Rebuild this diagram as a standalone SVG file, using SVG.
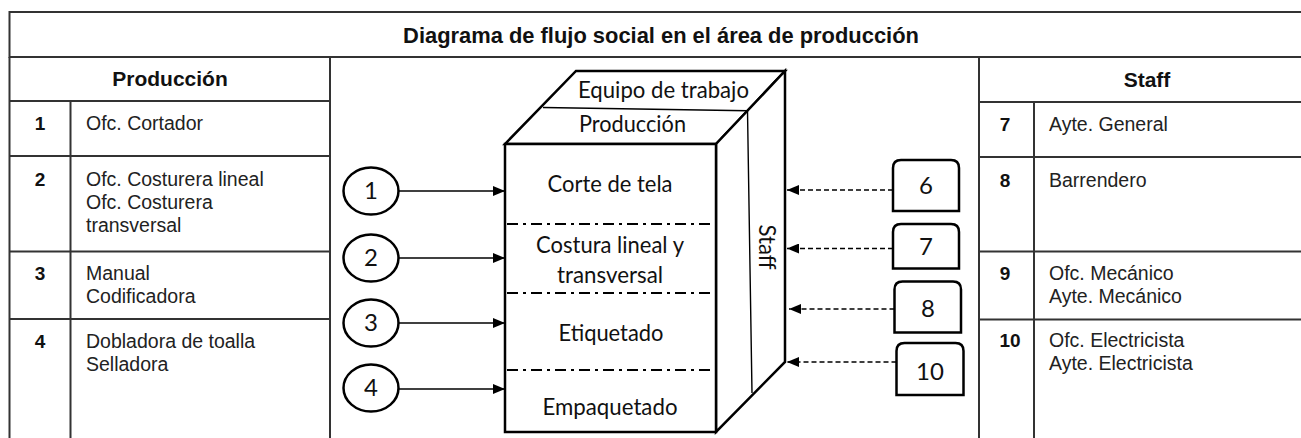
<svg xmlns="http://www.w3.org/2000/svg" width="1301" height="438" viewBox="0 0 1301 438">
<style>
.tl{stroke:#333;stroke-width:2;fill:none}
.tt{font-family:"Liberation Sans",Arial,sans-serif;font-size:19.5px;fill:#222}
.tb{font-family:"Liberation Sans",Arial,sans-serif;font-weight:bold;fill:#111}
.cb{font-family:Lato,"Open Sans",sans-serif;font-size:24px;fill:#111}
.ol{stroke:#000;stroke-width:2.5;fill:#fff;stroke-linejoin:miter}
.dd{stroke:#000;stroke-width:2.2;stroke-dasharray:11 5 3 5;fill:none}
.sol{stroke:#000;stroke-width:1.4;fill:none}
.dsh{stroke:#000;stroke-width:1.4;stroke-dasharray:5 3;fill:none}
</style>
<defs>
<marker id="ah" viewBox="0 0 12 10" refX="12" refY="5" markerWidth="12" markerHeight="10" markerUnits="userSpaceOnUse" orient="auto">
<path d="M0,0 L12,5 L0,10 Z" fill="#000"/>
</marker>
</defs>
<rect width="1301" height="438" fill="#fff"/>

<g id="table">
<rect x="9.5" y="12" width="1310" height="45" fill="#f1f1f1" class="tl"/>
<text class="tb" x="661" y="43" font-size="21.9" text-anchor="middle">Diagrama de flujo social en el área de producción</text>
<path class="tl" d="M9.5,57 V440 M330,57 V440 M70.5,101 V440 M9.5,101 H330 M9.5,156 H330 M9.5,251.5 H330 M9.5,319 H330"/>
<path class="tl" d="M979,57 V440 M1034,102 V440 M979,102 H1310 M979,157 H1310 M979,251.5 H1310 M979,319.5 H1310"/>
</g>

<g id="produccion-table">
<text class="tb" x="170" y="86" font-size="21" text-anchor="middle">Producción</text>
<text class="tb" x="40" y="130" font-size="19" text-anchor="middle">1</text>
<text class="tt" x="86" y="130">Ofc. Cortador</text>
<text class="tb" x="40" y="186" font-size="19" text-anchor="middle">2</text>
<text class="tt" x="86" y="186">Ofc. Costurera lineal</text>
<text class="tt" x="86" y="209">Ofc. Costurera</text>
<text class="tt" x="86" y="232">transversal</text>
<text class="tb" x="40" y="280" font-size="19" text-anchor="middle">3</text>
<text class="tt" x="86" y="280">Manual</text>
<text class="tt" x="86" y="303">Codificadora</text>
<text class="tb" x="40" y="348" font-size="19" text-anchor="middle">4</text>
<text class="tt" x="86" y="348">Dobladora de toalla</text>
<text class="tt" x="86" y="371">Selladora</text>
</g>

<g id="staff-table">
<text class="tb" x="1147" y="87" font-size="21" text-anchor="middle">Staff</text>
<text class="tb" x="1005" y="131" font-size="19" text-anchor="middle">7</text>
<text class="tt" x="1049" y="131">Ayte. General</text>
<text class="tb" x="1005" y="187" font-size="19" text-anchor="middle">8</text>
<text class="tt" x="1049" y="187">Barrendero</text>
<text class="tb" x="1005" y="280" font-size="19" text-anchor="middle">9</text>
<text class="tt" x="1049" y="280">Ofc. Mecánico</text>
<text class="tt" x="1049" y="303">Ayte. Mecánico</text>
<text class="tb" x="1010" y="347" font-size="19" text-anchor="middle">10</text>
<text class="tt" x="1049" y="347">Ofc. Electricista</text>
<text class="tt" x="1049" y="370">Ayte. Electricista</text>
</g>

<g id="cube">
<path class="ol" d="M505,144 L576,71 L785,71 L716,144 Z"/>
<path class="ol" d="M716,144 L785,71 L785,362 L716,432 Z"/>
<rect class="ol" x="505" y="144" width="211" height="288"/>
<path class="sol" d="M543,107.5 L747.5,110.7 L752,393"/>
<path class="dd" d="M507,224 H714 M507,293 H714 M507,370 H714"/>
<text class="cb" x="578" y="98" textLength="171" lengthAdjust="spacingAndGlyphs">Equipo de trabajo</text>
<text class="cb" x="579" y="132" textLength="107" lengthAdjust="spacingAndGlyphs">Producción</text>
<text class="cb" x="610" y="192" text-anchor="middle" textLength="125" lengthAdjust="spacingAndGlyphs">Corte de tela</text>
<text class="cb" x="610" y="253" text-anchor="middle" textLength="148" lengthAdjust="spacingAndGlyphs">Costura lineal y</text>
<text class="cb" x="610" y="283" text-anchor="middle" textLength="106" lengthAdjust="spacingAndGlyphs">transversal</text>
<text class="cb" x="611" y="341" text-anchor="middle" textLength="105" lengthAdjust="spacingAndGlyphs">Etiquetado</text>
<text class="cb" x="610" y="415" text-anchor="middle" textLength="135" lengthAdjust="spacingAndGlyphs">Empaquetado</text>
<text class="cb" transform="translate(759,247) rotate(90)" text-anchor="middle" textLength="45" lengthAdjust="spacingAndGlyphs">Staff</text>
</g>

<g id="n1"><ellipse class="ol" cx="371" cy="191" rx="27.5" ry="23.5" stroke-width="2"/><text class="cb" x="371" y="199" text-anchor="middle">1</text></g>
<g id="n2"><ellipse class="ol" cx="371" cy="258" rx="27.5" ry="23.5" stroke-width="2"/><text class="cb" x="371" y="266" text-anchor="middle">2</text></g>
<g id="n3"><ellipse class="ol" cx="371" cy="323" rx="27.5" ry="23.5" stroke-width="2"/><text class="cb" x="371" y="331" text-anchor="middle">3</text></g>
<g id="n4"><ellipse class="ol" cx="371" cy="388" rx="27.5" ry="23.5" stroke-width="2"/><text class="cb" x="371" y="396" text-anchor="middle">4</text></g>

<g id="n6"><path class="ol" d="M893,211 V168 Q893,160 901,160 H951 Q959,160 959,168 V211 Z"/><text class="cb" x="926" y="194" text-anchor="middle">6</text></g>
<g id="n7"><path class="ol" d="M893,268.5 V232 Q893,224 901,224 H951 Q959,224 959,232 V268.5 Z"/><text class="cb" x="926" y="255" text-anchor="middle">7</text></g>
<g id="n8"><path class="ol" d="M894.5,332.5 V289.5 Q894.5,281.5 902.5,281.5 H953 Q961,281.5 961,289.5 V332.5 Z"/><text class="cb" x="928" y="317" text-anchor="middle">8</text></g>
<g id="n10"><path class="ol" d="M896.5,395 V351 Q896.5,343 904.5,343 H955.5 Q963.5,343 963.5,351 V395 Z"/><text class="cb" x="930" y="380" text-anchor="middle">10</text></g>

<g id="connectors">
<path class="sol" d="M398.5,191 H505" marker-end="url(#ah)"/>
<path class="sol" d="M398.5,258 H505" marker-end="url(#ah)"/>
<path class="sol" d="M398.5,323 H505" marker-end="url(#ah)"/>
<path class="sol" d="M398.5,389 H505" marker-end="url(#ah)"/>
<path class="dsh" d="M893,190 H787" marker-end="url(#ah)"/>
<path class="dsh" d="M893,248.5 H787" marker-end="url(#ah)"/>
<path class="dsh" d="M894.5,309 H789" marker-end="url(#ah)"/>
<path class="dsh" d="M896.5,362 H787" marker-end="url(#ah)"/>
</g>
</svg>
